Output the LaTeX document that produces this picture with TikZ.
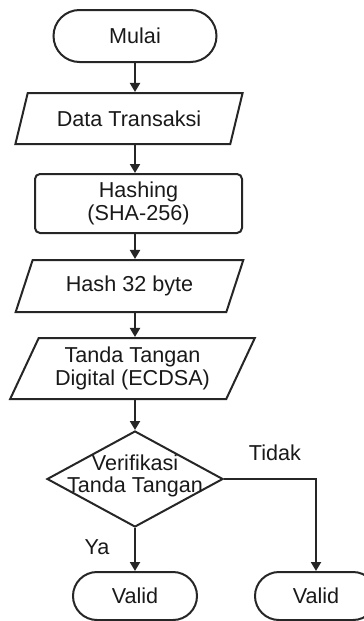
\documentclass[tikz,border=0pt]{standalone}
\usepackage{fontspec}
\setmainfont{Liberation Sans}
\usetikzlibrary{shapes.geometric,arrows.meta}
\begin{document}
\begin{tikzpicture}[x=0.5pt,y=-0.5pt,
  every node/.style={font=\fontsize{10.8}{11.2}\selectfont, text=black!90},
  line/.style={draw=black!85, line width=1pt},
  arr/.style={line, -{Triangle[length=4.5pt,width=5pt]}},
  term/.style={line, rectangle, rounded corners=#1, inner sep=0pt},
  io/.style={line, trapezium, trapezium left angle=61, trapezium right angle=119,
             trapezium stretches=true, inner sep=0pt, align=center},
  proc/.style={line, rectangle, rounded corners=2.5pt, inner sep=0pt, align=center},
  dec/.style={line, diamond, inner sep=0pt}
]
\useasboundingbox (0,0) rectangle (364,621);
\clip (0,0) rectangle (364,621);

% start
\node[term=13pt, minimum width=81.5pt, minimum height=26pt] (mulai) at (135,36) {Mulai};
% input data
\node[io, minimum width=114pt, minimum height=25.5pt] (data) at (129,118.5) {Data Transaksi};
% hashing step
\node[proc, minimum width=103.5pt, minimum height=29.5pt] (hash) at (138.5,203.5) {Hashing\\(SHA-256)};
% digest
\node[io, minimum width=114.5pt, minimum height=26pt] (digest) at (129.5,286) {Hash 32 byte};
% signature
\node[io, minimum width=122.5pt, minimum height=30.5pt] (sig) at (132.5,368.5) {Tanda Tangan\\Digital (ECDSA)};
% decision
\node[dec, minimum width=88pt, minimum height=48pt,
      label={[align=center, yshift=1.5pt]center:Verifikasi\\Tanda Tangan}] (ver) at (135,479) {};
% outcomes
\node[term=12pt, minimum width=62pt, minimum height=24pt] (ok) at (135,596) {Valid};
\node[term=12pt, minimum width=61pt, minimum height=24pt] (nok) at (316,596) {Valid};

% flow, all along one vertical spine
\draw[arr] (mulai.south) -- (mulai.south |- data.north);
\draw[arr] (mulai.south |- data.south) -- (mulai.south |- hash.north);
\draw[arr] (mulai.south |- hash.south) -- (mulai.south |- digest.north);
\draw[arr] (mulai.south |- digest.south) -- (mulai.south |- sig.north);
\draw[arr] (ver.north |- sig.south) -- (ver.north);
\draw[arr] (ver.south) -- (ok.north);
\draw[arr] (ver.east) -| (nok.north);

% branch labels
\node (ya) at (97,547) {Ya};
\node (tidak) at (275,453) {Tidak};
\end{tikzpicture}
\end{document}
